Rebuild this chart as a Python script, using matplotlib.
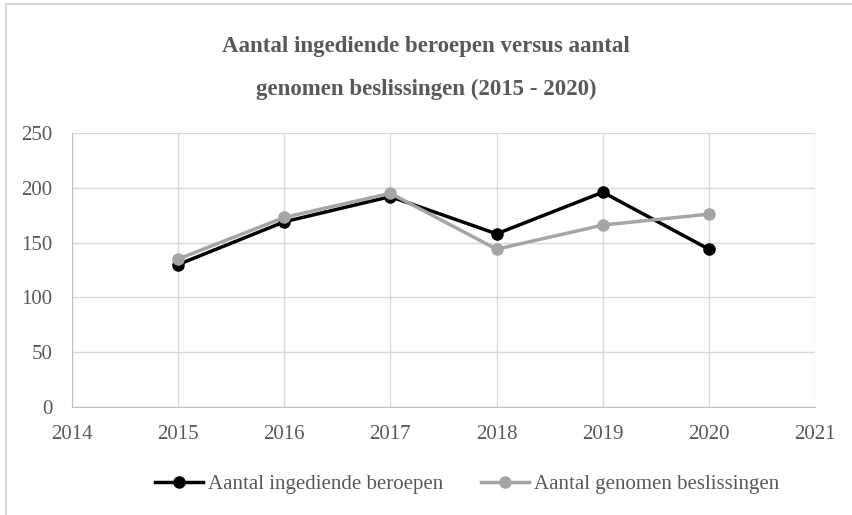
import matplotlib.pyplot as plt
from matplotlib.lines import Line2D

# Gegevens
jaren = [2015, 2016, 2017, 2018, 2019, 2020]
beroepen = [130, 169, 192, 158, 196, 144]
beslissingen = [135, 173, 195, 144, 166, 176]

plt.rcParams['font.family'] = ['Liberation Serif', 'DejaVu Serif']
tekstkleur = '#595959'

fig = plt.figure(figsize=(8.52, 5.15), dpi=100)
ax = fig.add_axes([0.0845, 0.2097, 0.8721, 0.532])

ax.plot(jaren, beroepen, color='black', linewidth=2.5, marker='o',
        markersize=8, label='Aantal ingediende beroepen', zorder=3)
ax.plot(jaren, beslissingen, color='#A5A5A5', linewidth=2.5, marker='o',
        markersize=8, label='Aantal genomen beslissingen', zorder=3)

ax.set_xlim(2014, 2021)
ax.set_ylim(0, 250)
ax.set_xticks(range(2014, 2022))
ax.set_yticks(range(0, 251, 50))
ax.grid(True, color='#D9D9D9', linewidth=1)
ax.set_axisbelow(True)
for kant in ['top', 'right']:
    ax.spines[kant].set_visible(False)
for kant in ['left', 'bottom']:
    ax.spines[kant].set_color('#BFBFBF')
ax.tick_params(length=0, labelsize=15, colors=tekstkleur)
ax.tick_params(axis='x', pad=13)
ax.tick_params(axis='y', pad=14)

fig.text(0.5, 0.909, 'Aantal ingediende beroepen versus aantal',
         ha='center', va='center', fontsize=16.5, fontweight='bold', color=tekstkleur)
fig.text(0.5, 0.826, 'genomen beslissingen (2015 - 2020)',
         ha='center', va='center', fontsize=16.5, fontweight='bold', color=tekstkleur)

fig.legend(loc='center', bbox_to_anchor=(0.548, 0.059), ncol=2, frameon=False,
           fontsize=15, labelcolor=tekstkleur, handlelength=2.3,
           handletextpad=0.25, columnspacing=1.8)

# kader van de grafiek (alleen boven en links zichtbaar)
fig.lines.append(Line2D([0.007, 1], [0.993, 0.993], transform=fig.transFigure,
                        color='#D9D9D9', linewidth=1.5))
fig.lines.append(Line2D([0.007, 0.007], [0, 0.993], transform=fig.transFigure,
                        color='#D9D9D9', linewidth=1.5))

fig.savefig('out.png', dpi=100)
